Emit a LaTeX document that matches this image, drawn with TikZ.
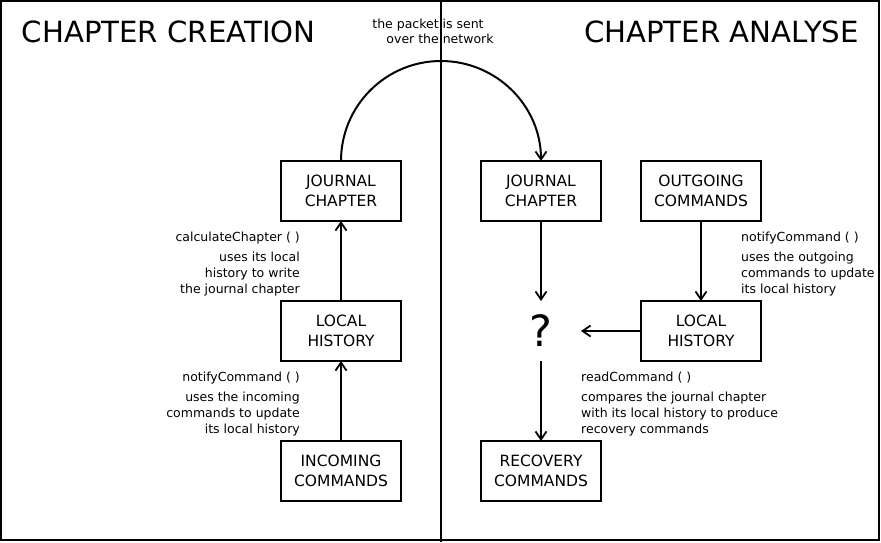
\documentclass[tikz,border=0pt]{standalone}
\usepackage{fontspec}
\setmainfont{DejaVu Sans}
\usetikzlibrary{arrows.meta}
\begin{document}
\begin{tikzpicture}[x=1pt,y=-1pt,
  box/.style={draw,line width=2pt,minimum width=120pt,minimum height=60pt,inner sep=0pt,outer sep=0pt,align=center,font=\fontsize{15.5}{20}\selectfont},
  qbox/.style={minimum width=80pt,minimum height=60pt,inner sep=0pt,outer sep=0pt,font=\fontsize{43}{48}\selectfont},
  note/.style={inner sep=0pt,font=\fontsize{12.5}{16}\selectfont},
  title/.style={inner sep=0pt,font=\fontsize{29.2}{34}\selectfont},
  arr/.style={line width=2pt,-{Straight Barb[length=8pt,width=11pt,line width=1.8pt]}},
  frame/.style={line width=2pt}]
\useasboundingbox (0,0) rectangle (881,542);
\draw[frame] (1,1) rectangle (879,540);
\coordinate (dtop) at (441,0);
\coordinate (dbot) at (441,542);
\draw[frame] (dtop) -- (dbot);

\node[title,anchor=base west] (tl) at (21.5,42) {CHAPTER CREATION};
\node[title,anchor=base east] (tr) at (859,42) {CHAPTER ANALYSE};

\node[note,anchor=base] (net1) at (428,28) {the packet is sent};
\node[note,anchor=base] (net2) at (440,43) {over the network};

\node[box] (jl) at (341,191) {JOURNAL\\CHAPTER};
\node[box] (lhl) at (341,331) {LOCAL\\HISTORY};
\node[box] (inc) at (341,471) {INCOMING\\COMMANDS};
\node[box] (jr) at (541,191) {JOURNAL\\CHAPTER};
\node[qbox] (q) at (541,331) {?};
\node[box] (rec) at (541,471) {RECOVERY\\COMMANDS};
\node[box] (out) at (701,191) {OUTGOING\\COMMANDS};
\node[box] (lhr) at (701,331) {LOCAL\\HISTORY};

\draw[arr] (inc) -- (lhl);
\draw[arr] (lhl) -- (jl);
\draw[arr] (jr) -- (q);
\draw[arr] (q) -- (rec);
\draw[arr] (out) -- (lhr);
\draw[arr] (lhr.west) -- (q.east);
\draw[arr] (jl.north) arc[start angle=180,end angle=360,radius=100];

\node[note,anchor=base east] (n1) at (300,241) {calculateChapter ( )};
\node[note,anchor=base east,align=right] (n2) at (300,293) {uses its local\\history to write\\the journal chapter};
\node[note,anchor=base east] (n3) at (300,381) {notifyCommand ( )};
\node[note,anchor=base east,align=right] (n4) at (300,433) {uses the incoming\\commands to update\\its local history};
\node[note,anchor=base west] (n5) at (741,241) {notifyCommand ( )};
\node[note,anchor=base west,align=left] (n6) at (741,293) {uses the outgoing\\commands to update\\its local history};
\node[note,anchor=base west] (n7) at (581,381) {readCommand ( )};
\node[note,anchor=base west,align=left] (n8) at (581,433) {compares the journal chapter\\with its local history to produce\\recovery commands};
\end{tikzpicture}
\end{document}
